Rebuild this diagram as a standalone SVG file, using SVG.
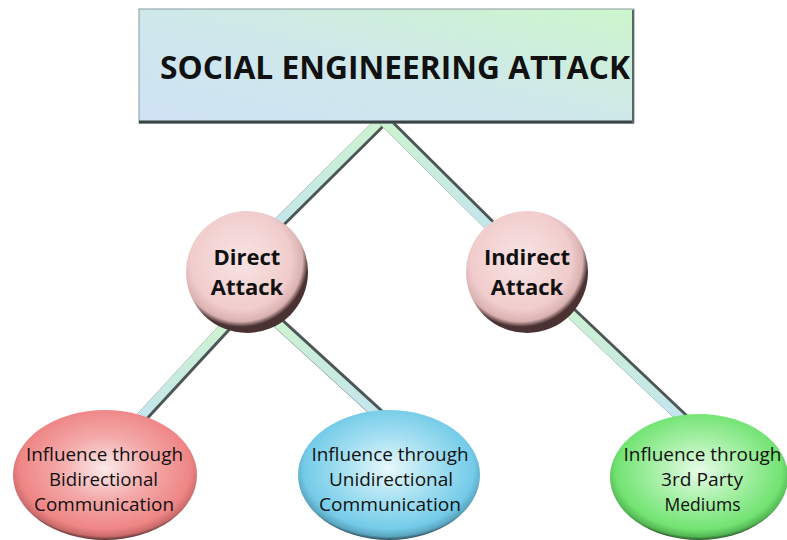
<svg xmlns="http://www.w3.org/2000/svg" width="787" height="540" viewBox="0 0 787 540">
<defs>
<style>
.bold{font-family:"Open Sans","Liberation Sans",sans-serif;font-weight:bold;fill:#111;text-anchor:middle}
.reg{font-family:"Open Sans","Liberation Sans",sans-serif;font-size:19px;fill:#111;text-anchor:middle}
.shadow{stroke:#4d5656;stroke-width:12;stroke-linecap:butt;fill:none}
.light{stroke:url(#lineG);stroke-width:9;stroke-linecap:butt;fill:none}
</style>
<linearGradient id="boxG" x1="0" y1="1" x2="1" y2="0">
<stop offset="0" stop-color="#cfe2f5"/>
<stop offset="0.5" stop-color="#cfe8ea"/>
<stop offset="1" stop-color="#ccf6cc"/>
</linearGradient>
<linearGradient id="lineG" x1="0" y1="0" x2="0" y2="1">
<stop offset="0" stop-color="#cdf3cf"/>
<stop offset="1" stop-color="#c4e4ef"/>
</linearGradient>
<radialGradient id="pinkG" cx="0.45" cy="0.4" r="0.55">
<stop offset="0" stop-color="#f8e4e4"/>
<stop offset="0.75" stop-color="#f1cccc"/>
<stop offset="0.92" stop-color="#d9b1b1"/>
<stop offset="1" stop-color="#4a3232"/>
</radialGradient>
<radialGradient id="redG" cx="0.5" cy="0.45" r="0.55">
<stop offset="0" stop-color="#fbeaea"/>
<stop offset="0.45" stop-color="#f4a9a9"/>
<stop offset="0.85" stop-color="#ef8585"/>
<stop offset="0.95" stop-color="#c96a6a"/>
<stop offset="1" stop-color="#553030"/>
</radialGradient>
<radialGradient id="blueG" cx="0.5" cy="0.45" r="0.55">
<stop offset="0" stop-color="#e8f7fc"/>
<stop offset="0.45" stop-color="#a6e0f2"/>
<stop offset="0.85" stop-color="#74cbe8"/>
<stop offset="0.95" stop-color="#5aa5bf"/>
<stop offset="1" stop-color="#2c4b55"/>
</radialGradient>
<radialGradient id="greenG" cx="0.5" cy="0.45" r="0.55">
<stop offset="0" stop-color="#e8fbe8"/>
<stop offset="0.45" stop-color="#a7f0a7"/>
<stop offset="0.85" stop-color="#72e372"/>
<stop offset="0.95" stop-color="#55b855"/>
<stop offset="1" stop-color="#2a542a"/>
</radialGradient>
</defs>
<rect width="787" height="540" fill="#fff"/>
<g id="connectors">
<line class="shadow" x1="383" y1="120" x2="262" y2="240"/>
<line class="light" x1="381" y1="120" x2="260" y2="240"/>
<line class="shadow" x1="384" y1="120" x2="505" y2="240"/>
<line class="light" x1="382" y1="120" x2="503" y2="240"/>
<line class="shadow" x1="232" y1="320" x2="135" y2="425"/>
<line class="light" x1="230" y1="320" x2="133" y2="425"/>
<line class="shadow" x1="270" y1="315" x2="385" y2="420"/>
<line class="light" x1="268" y1="315" x2="383" y2="420"/>
<line class="shadow" x1="558" y1="300" x2="690" y2="425"/>
<line class="light" x1="556" y1="300" x2="688" y2="425"/>
</g>
<g id="root">
<rect x="139" y="9" width="495" height="114" fill="url(#boxG)" stroke="#8a9aa0" stroke-width="1"/>
<line x1="139" y1="122" x2="634" y2="122" stroke="#3a4444" stroke-width="3"/>
<line x1="633" y1="10" x2="633" y2="123" stroke="#5a6666" stroke-width="2"/>
<text class="bold" x="395" y="79" font-size="33" textLength="470" lengthAdjust="spacingAndGlyphs">SOCIAL ENGINEERING ATTACK</text>
</g>
<g id="direct">
<circle cx="247" cy="272" r="61" fill="url(#pinkG)"/>
<text class="bold" x="247" y="265" font-size="22">Direct</text>
<text class="bold" x="247" y="295" font-size="22">Attack</text>
</g>
<g id="indirect">
<circle cx="527" cy="272" r="61" fill="url(#pinkG)"/>
<text class="bold" x="527" y="265" font-size="22">Indirect</text>
<text class="bold" x="527" y="295" font-size="22">Attack</text>
</g>
<g id="bidirectional">
<ellipse cx="105" cy="475" rx="92" ry="65" fill="url(#redG)"/>
<text class="reg" x="104.5" y="461" textLength="157" lengthAdjust="spacingAndGlyphs">Influence through</text>
<text class="reg" x="103.5" y="486" textLength="109" lengthAdjust="spacingAndGlyphs">Bidirectional</text>
<text class="reg" x="104" y="511" textLength="140" lengthAdjust="spacingAndGlyphs">Communication</text>
</g>
<g id="unidirectional">
<ellipse cx="389" cy="475" rx="91" ry="65" fill="url(#blueG)"/>
<text class="reg" x="390" y="461" textLength="157" lengthAdjust="spacingAndGlyphs">Influence through</text>
<text class="reg" x="391" y="486" textLength="124" lengthAdjust="spacingAndGlyphs">Unidirectional</text>
<text class="reg" x="390" y="511" textLength="142" lengthAdjust="spacingAndGlyphs">Communication</text>
</g>
<g id="thirdparty">
<ellipse cx="699" cy="477" rx="89" ry="63" fill="url(#greenG)"/>
<text class="reg" x="702.5" y="461" textLength="158" lengthAdjust="spacingAndGlyphs">Influence through</text>
<text class="reg" x="702" y="486" textLength="82" lengthAdjust="spacingAndGlyphs">3rd Party</text>
<text class="reg" x="702.5" y="511" textLength="76" lengthAdjust="spacingAndGlyphs">Mediums</text>
</g>
</svg>
